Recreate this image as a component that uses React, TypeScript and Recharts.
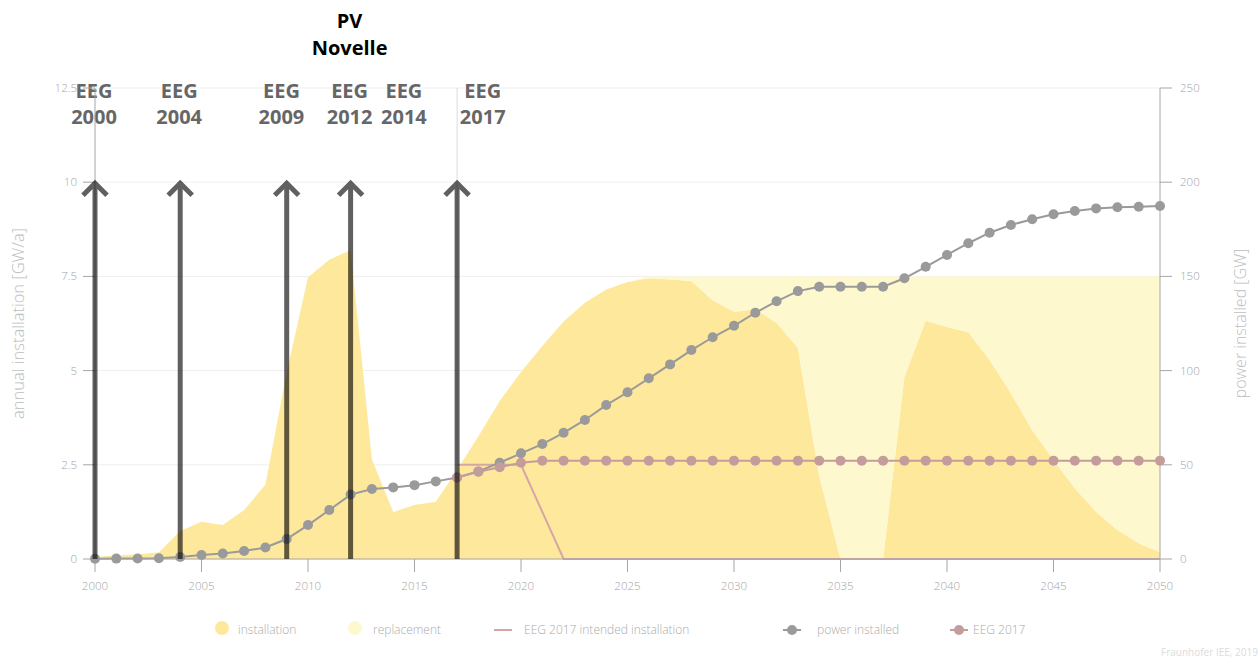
import React from 'react';
import {
  ComposedChart,
  Area,
  Line,
  XAxis,
  YAxis,
  CartesianGrid,
  ReferenceLine,
} from 'recharts';

// years on the x axis
const years = [
  2000, 2001, 2002, 2003, 2004, 2005, 2006, 2007, 2008, 2009,
  2010, 2011, 2012, 2013, 2014, 2015, 2016, 2017, 2018, 2019,
  2020, 2021, 2022, 2023, 2024, 2025, 2026, 2027, 2028, 2029,
  2030, 2031, 2032, 2033, 2034, 2035, 2036, 2037, 2038, 2039,
  2040, 2041, 2042, 2043, 2044, 2045, 2046, 2047, 2048, 2049,
  2050,
];

// GW/a, left axis
const installation = [
  0.05, 0.1, 0.12, 0.18, 0.74, 0.99, 0.9, 1.3, 1.97, 4.95,
  7.48, 7.94, 8.2, 2.65, 1.25, 1.43, 1.52, 2.36, 3.26, 4.19,
  4.96, 5.65, 6.3, 6.8, 7.15, 7.35, 7.45, 7.42, 7.38, 6.87,
  6.56, 6.63, 6.26, 5.6, 2.2, 0, 0, 0, 4.83, 6.32,
  6.16, 6.02, 5.28, 4.4, 3.42, 2.63, 1.88, 1.25, 0.77, 0.42,
  0.18,
];

const replacement = [
  0, 0, 0, 0, 0, 0, 0, 0, 0, 0,
  0, 0, 0, 0, 0, 0, 0, 0, 0, 0,
  0, 0, 0, 0, 0, 0, 0.05, 0.08, 0.12, 0.63,
  0.94, 0.87, 1.24, 1.9, 5.3, 7.5, 7.5, 7.5, 2.67, 1.18,
  1.34, 1.48, 2.22, 3.1, 4.08, 4.87, 5.62, 6.25, 6.73, 7.08,
  7.32,
];

const eeg2017Intended = [
  null, null, null, null, null, null, null, null, null, null,
  null, null, null, null, null, null, null, 2.5, 2.5, 2.5,
  2.5, 1.25, 0, 0, 0, 0, 0, 0, 0, 0,
  0, 0, 0, 0, 0, 0, 0, 0, 0, 0,
  0, 0, 0, 0, 0, 0, 0, 0, 0, 0,
  0,
];

// GW, right axis
const powerInstalled = [
  0.1, 0.2, 0.3, 0.4, 1.1, 2.1, 2.9, 4.2, 6.1, 10.6,
  18, 26, 34.2, 37.2, 38, 39.2, 41.2, 43.3, 46.5, 51.1,
  56.1, 61, 67, 73.8, 81.7, 88.5, 95.9, 103.3, 110.9, 117.7,
  123.8, 130.7, 136.8, 142.2, 144.5, 144.5, 144.5, 144.5, 149, 155.1,
  161.4, 167.6, 173.2, 177.3, 180.3, 183, 184.7, 186.1, 186.7, 187,
  187.4,
];

const eeg2017 = [
  null, null, null, null, null, null, null, null, null, null,
  null, null, null, null, null, null, null, 43.3, 46.3, 48.7,
  51.1, 52.2, 52.2, 52.2, 52.2, 52.2, 52.2, 52.2, 52.2, 52.2,
  52.2, 52.2, 52.2, 52.2, 52.2, 52.2, 52.2, 52.2, 52.2, 52.2,
  52.2, 52.2, 52.2, 52.2, 52.2, 52.2, 52.2, 52.2, 52.2, 52.2,
  52.2,
];

const xTicks = [2000, 2005, 2010, 2015, 2020, 2025, 2030, 2035, 2040, 2045, 2050];
const leftTicks = [0, 2.5, 5, 7.5, 10, 12.5];
const rightTicks = [0, 50, 100, 150, 200, 250];

// law changes marked with arrows
const arrowYears = [2000, 2004, 2009, 2012, 2017];
const arrowHeight = 10;
const eegLabels = [['EEG', '2000'], ['EEG', '2004'], ['EEG', '2009'], ['EEG', '2012'], ['EEG', '2014'], ['EEG', '2017']];
const eegLabelAt = [2000, 2004, 2008.8, 2012, 2014.55, 2018.25];
const novelleLabel = ['PV', 'Novelle'];
const novelleAt = 2012;

const INSTALL = '#fee89c';
const REPLACE = '#fef8cf';
const GREY = '#9a9a9a';
const ROSE = '#c59c9c';
const ROSE_LIGHT = '#d6a5a5';
const AXIS = '#a6a6a6';

const data = years.map((year, i) => ({
  year,
  installation: installation[i],
  replacement: replacement[i],
  eeg2017Intended: eeg2017Intended[i],
  powerInstalled: powerInstalled[i],
  eeg2017: eeg2017[i],
}));

const Arrow = (p: any) => {
  const x = p.x1;
  const top = Math.min(p.y1, p.y2);
  const bottom = Math.max(p.y1, p.y2);
  return (
    <g opacity={0.62}>
      <line x1={x} x2={x} y1={bottom} y2={top} stroke="#000" strokeWidth={5} />
      <polyline
        points={`${x - 12},${top + 13} ${x},${top + 1} ${x + 12},${top + 13}`}
        fill="none"
        stroke="#000"
        strokeWidth={5}
      />
    </g>
  );
};

const twoLines = (lines: string[], color: string, dy1: number, dy2: number) => (props: any) => {
  const { x, y } = props.viewBox;
  return (
    <g>
      <text x={x - 1} y={y + dy1} textAnchor="middle" fill={color} fontSize={20} fontWeight={700}>{lines[0]}</text>
      <text x={x - 1} y={y + dy2} textAnchor="middle" fill={color} fontSize={20} fontWeight={700}>{lines[1]}</text>
    </g>
  );
};

const legendItems = [
  { name: 'installation', kind: 'circle', color: INSTALL, x: 222, textX: 238 },
  { name: 'replacement', kind: 'circle', color: REPLACE, x: 355, textX: 373 },
  { name: 'EEG 2017 intended installation', kind: 'line', color: ROSE_LIGHT, x: 503, textX: 524 },
  { name: 'power installed', kind: 'marker', color: GREY, x: 792, textX: 817 },
  { name: 'EEG 2017', kind: 'marker', color: ROSE, x: 959, textX: 973 },
];

const ChartLegend = () => (
  <svg width={1258} height={668} style={{ position: 'absolute', left: 0, top: 0, pointerEvents: 'none' }}>
    {legendItems.map((it) => (
      <g key={it.name}>
        {it.kind === 'circle' && <circle cx={it.x} cy={628} r={7} fill={it.color} />}
        {it.kind !== 'circle' && (
          <line x1={it.x - 9} x2={it.x + 9} y1={630} y2={630} stroke={it.color} strokeWidth={2} />
        )}
        {it.kind === 'marker' && <circle cx={it.x} cy={630} r={5} fill={it.color} />}
        <text x={it.textX} y={634} fill="#ababab" fontSize={12} fontWeight={300}>{it.name}</text>
      </g>
    ))}
    <text x={1161} y={656} fill="#dcdcdc" fontSize={10}>Fraunhofer IEE, 2019</text>
  </svg>
);

export default function App() {
  return (
    <div
      style={{
        position: 'fixed',
        left: 0,
        top: 0,
        width: 1258,
        height: 668,
        overflow: 'hidden',
        background: '#fff',
        fontFamily: '"Open Sans", sans-serif',
      }}
    >
      <ComposedChart width={1258} height={668} data={data} margin={{ top: 88, right: 8, bottom: 79, left: 0 }}>
        <CartesianGrid yAxisId="left" vertical={false} stroke="#efefef" />
        <XAxis
          dataKey="year"
          type="number"
          domain={[2000, 2050]}
          ticks={xTicks}
          interval={0}
          height={30}
          tickSize={13}
          tickMargin={10}
          axisLine={{ stroke: AXIS }}
          tickLine={{ stroke: AXIS }}
          tick={{ fill: '#a4a4a4', fontSize: 11.5, fontWeight: 300 }}
        />
        <YAxis
          yAxisId="left"
          orientation="left"
          width={95}
          domain={[0, 12.5]}
          ticks={leftTicks}
          interval={0}
          tickSize={12}
          tickMargin={6}
          axisLine={{ stroke: AXIS }}
          tickLine={{ stroke: AXIS }}
          tick={{ fill: '#a4a4a4', fontSize: 11.5, fontWeight: 300 }}
          label={{
            value: 'annual installation [GW/a]',
            angle: -90,
            position: 'insideLeft',
            offset: 18,
            style: { textAnchor: 'middle', fill: '#bdbdbd', fontSize: 16.5, fontWeight: 300 },
          }}
        />
        <YAxis
          yAxisId="right"
          orientation="right"
          width={90}
          domain={[0, 250]}
          ticks={rightTicks}
          interval={0}
          tickSize={12}
          tickMargin={8}
          axisLine={{ stroke: AXIS }}
          tickLine={{ stroke: AXIS }}
          tick={{ fill: '#a4a4a4', fontSize: 11.5, fontWeight: 300 }}
          label={{
            value: 'power installed [GW]',
            angle: -90,
            position: 'insideRight',
            offset: 10,
            style: { textAnchor: 'middle', fill: '#bdbdbd', fontSize: 16, fontWeight: 300 },
          }}
        />
        <Area
          yAxisId="left"
          type="linear"
          dataKey="installation"
          stackId="a"
          stroke="none"
          fill={INSTALL}
          fillOpacity={1}
          isAnimationActive={false}
        />
        <Area
          yAxisId="left"
          type="linear"
          dataKey="replacement"
          stackId="a"
          stroke="none"
          fill={REPLACE}
          fillOpacity={1}
          isAnimationActive={false}
        />
        <Line
          yAxisId="left"
          type="linear"
          dataKey="eeg2017Intended"
          stroke={ROSE_LIGHT}
          strokeWidth={2}
          dot={false}
          isAnimationActive={false}
        />
        <Line
          yAxisId="right"
          type="linear"
          dataKey="powerInstalled"
          stroke={GREY}
          strokeWidth={2}
          dot={{ r: 5, fill: GREY, stroke: GREY, strokeWidth: 0 }}
          isAnimationActive={false}
        />
        <Line
          yAxisId="right"
          type="linear"
          dataKey="eeg2017"
          stroke={ROSE}
          strokeWidth={2}
          dot={{ r: 5, fill: ROSE, stroke: ROSE, strokeWidth: 0 }}
          isAnimationActive={false}
        />
        <ReferenceLine yAxisId="left" x={2017} stroke="#dcdcdc" strokeWidth={1} />
        {arrowYears.map((yr) => (
          <ReferenceLine
            key={`arrow-${yr}`}
            yAxisId="left"
            segment={[{ x: yr, y: 0 }, { x: yr, y: arrowHeight }]}
            shape={Arrow}
            ifOverflow="visible"
            zIndex={900}
          />
        ))}
        {eegLabels.map((lines, i) => (
          <ReferenceLine
            key={`lbl-${i}`}
            yAxisId="left"
            x={eegLabelAt[i]}
            stroke="none"
            ifOverflow="visible"
            label={twoLines(lines, '#666666', 10, 36)}
          />
        ))}
        <ReferenceLine
          yAxisId="left"
          x={novelleAt}
          stroke="none"
          ifOverflow="visible"
          label={twoLines(novelleLabel, '#000000', -60, -33)}
        />
      </ComposedChart>
      <ChartLegend />
    </div>
  );
}
